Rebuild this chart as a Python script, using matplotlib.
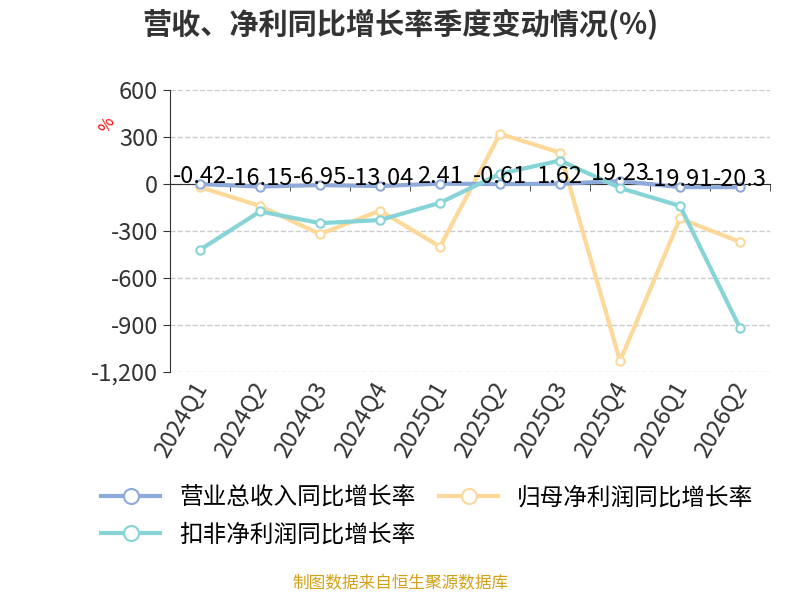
import matplotlib.pyplot as plt
import numpy as np
from matplotlib.ticker import FuncFormatter

plt.rcParams['font.family'] = ['Noto Sans CJK SC', 'DejaVu Sans']

quarters = ['2024Q1', '2024Q2', '2024Q3', '2024Q4', '2025Q1', '2025Q2', '2025Q3', '2025Q4', '2026Q1', '2026Q2']
revenue = [-0.42, -16.15, -6.95, -13.04, 2.41, -0.61, 1.62, 19.23, -19.91, -20.3]
net_profit = [-20, -140, -320, -170, -400, 320, 200, -1130, -220, -370]
deducted = [-420, -175, -250, -230, -120, 65, 150, -25, -140, -920]

fig = plt.figure(figsize=(8, 6), dpi=100)
ax = fig.add_axes([0.2125, 0.38, 0.75, 0.47])
x = np.arange(len(quarters))

l1, = ax.plot(x, revenue, color='#8eaadb', lw=3, marker='o', ms=6, mfc='white', mew=1.5, label='营业总收入同比增长率', zorder=3)
l2, = ax.plot(x, net_profit, color='#fcd899', lw=3, marker='o', ms=6, mfc='white', mew=1.5, label='归母净利润同比增长率', zorder=2)
l3, = ax.plot(x, deducted, color='#86d4d6', lw=3, marker='o', ms=6, mfc='white', mew=1.5, label='扣非净利润同比增长率', zorder=4)
for i, v in enumerate(revenue):
    ax.text(i, v - 25, f'{v:g}', ha='center', va='bottom', fontsize=17, color='black', zorder=5)

ax.set_xlim(-0.5, len(quarters) - 0.5)
ax.set_ylim(-1200, 600)
ax.set_yticks([600, 300, 0, -300, -600, -900, -1200])
ax.yaxis.set_major_formatter(FuncFormatter(lambda v, p: f'{int(v):,}'))
ax.grid(axis='y', ls='--', color='#cccccc', lw=1)
ax.set_axisbelow(True)
for s in ['top', 'right']:
    ax.spines[s].set_visible(False)
ax.spines['bottom'].set_position(('data', 0))
ax.spines['bottom'].set_color('#333333')
ax.spines['left'].set_color('#333333')
ax.set_xticks(x)
ax.set_xticklabels([])
ax.set_xticks(np.arange(-0.5, len(quarters)), minor=True)
ax.tick_params(axis='x', which='major', length=0)
ax.tick_params(axis='x', which='minor', length=5, color='#333333')
ax.tick_params(axis='y', labelsize=17, colors='#333333', length=5)
for i, q in enumerate(quarters):
    ax.text(i + 0.2, -1240, q, rotation=60, ha='right', va='top', fontsize=17, color='#333333')

ax.text(-0.105, 0.85, '%', transform=ax.transAxes, color='red', fontsize=12, rotation=60, ha='center')
fig.text(0.5, 0.96, '营收、净利同比增长率季度变动情况(%)', ha='center', va='center', fontsize=21, fontweight='bold', color='#333333')
fig.legend(handles=[l1, l3, l2], loc='upper left', bbox_to_anchor=(0.1, 0.225), ncol=2, frameon=False, fontsize=17,
           handlelength=2.5, columnspacing=1.0, markerscale=1.8, labelspacing=0.6)
fig.text(0.5, 0.02, '制图数据来自恒生聚源数据库', ha='center', color='#d4a017', fontsize=12)
fig.savefig('out.png')
